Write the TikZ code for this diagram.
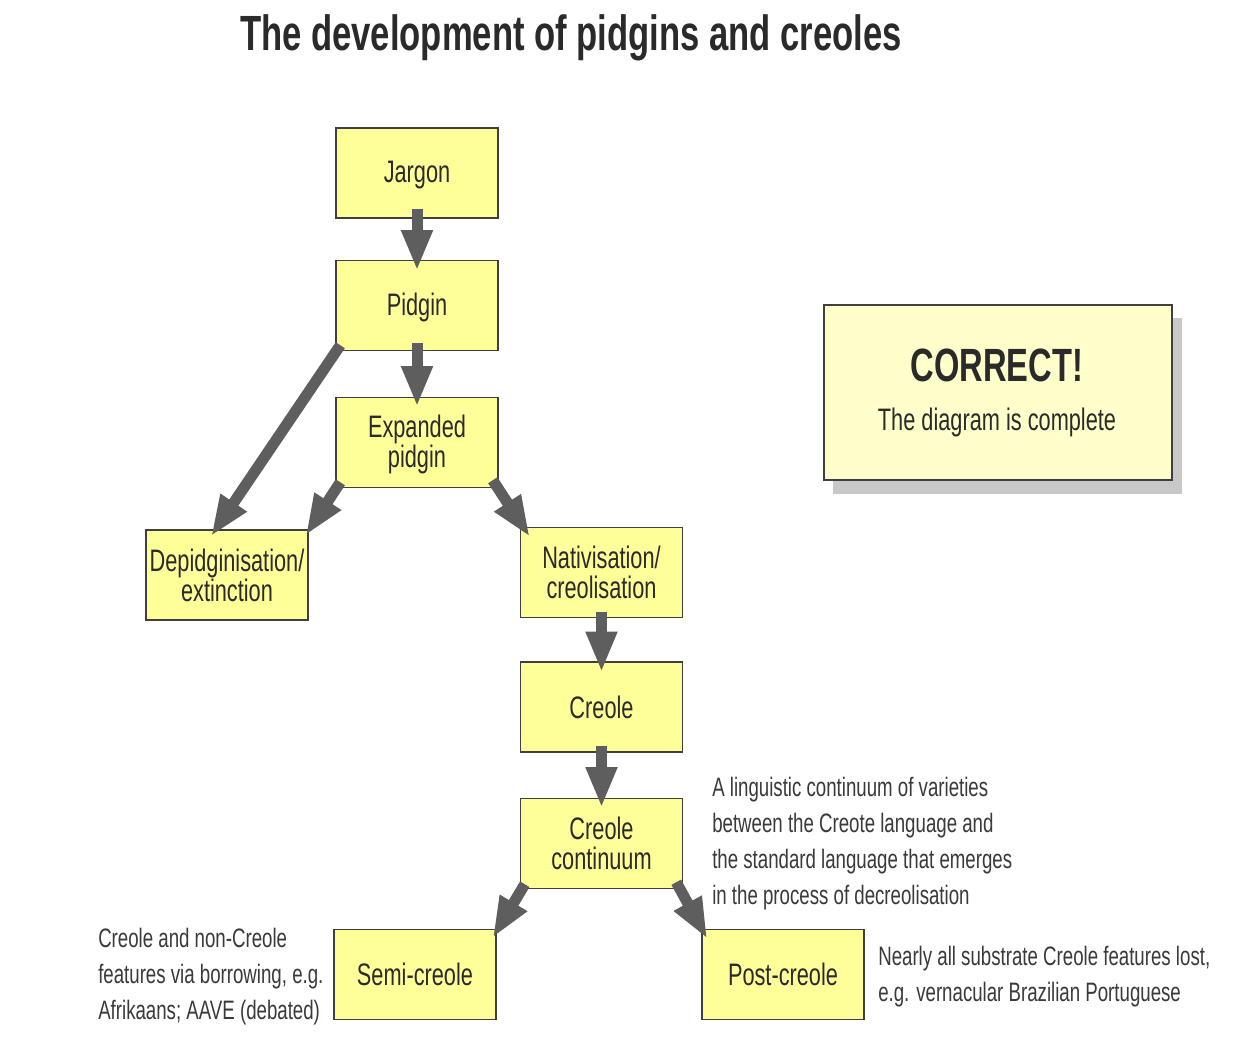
\documentclass[tikz,border=0pt]{standalone}
\usepackage{fontspec}
\setmainfont[FakeStretch=0.7]{Liberation Sans}
\usetikzlibrary{arrows.meta}
\definecolor{boxfill}{HTML}{FFFF99}
\definecolor{okfill}{HTML}{FFFFCC}
\definecolor{edgegray}{HTML}{3F3F3F}
\definecolor{arrgray}{HTML}{5E5E5E}
\definecolor{txtgray}{HTML}{2A2A2A}
\definecolor{notegray}{HTML}{3A3A3A}
\definecolor{shadowgray}{HTML}{C8C8C8}
\newcommand\lnstrut{\rule[-0.13em]{0pt}{0.98em}}
\newcommand\boxfont{\fontsize{23.3pt}{22.5pt}\selectfont\setlength{\lineskiplimit}{-100pt}}
\tikzset{
  stagebox/.style={draw=edgegray, line width=1.1pt, fill=boxfill, minimum width=121.5pt, minimum height=67.5pt,
    inner sep=0pt, align=center, text=txtgray, font=\boxfont},
  flowarrow/.style={draw=arrgray, line width=8.25pt, -{Triangle[length=30.5pt,width=21.75pt]}},
  notetext/.style={align=left, anchor=west, inner sep=0pt, text=notegray, font=\fontsize{20pt}{27pt}\selectfont},
}
\begin{document}
\begin{tikzpicture}[x=0.75pt,y=-0.75pt]
\useasboundingbox (0,0) rectangle (1240,1040);
\fill[white] (0,0) rectangle (1240,1040);

\node[text=txtgray, font=\fontsize{37.1pt}{37.1pt}\selectfont\bfseries, inner sep=0pt] (title) at (571,38) {The development of pidgins and creoles};

\node[stagebox] (jargon) at (417,173) {Jargon\lnstrut};
\node[stagebox] (pidgin) at (417,305.5) {Pidgin\lnstrut};
\node[stagebox] (expanded) at (417,442.5) {Expanded\lnstrut\\pidgin\lnstrut};
\node[stagebox] (depid) at (227,575) {Depidginisation/\lnstrut\\extinction\lnstrut};
\node[stagebox] (nativ) at (601.5,572.5) {Nativisation/\lnstrut\\creolisation\lnstrut};
\node[stagebox] (creole) at (601.5,707) {Creole\lnstrut};
\node[stagebox] (contin) at (601.5,843.5) {Creole\lnstrut\\continuum\lnstrut};
\node[stagebox] (semi) at (415,974.5) {Semi-creole\lnstrut};
\node[stagebox] (post) at (783,974.5) {Post-creole\lnstrut};

% correct box with shadow
\fill[shadowgray] (833,318) rectangle (1182,494);
\node[draw=edgegray, line width=1.1pt, fill=okfill, minimum width=261pt, minimum height=131.25pt, inner sep=0pt] (okbox) at (998,392.5) {};
\node[text=txtgray, font=\fontsize{35pt}{35pt}\selectfont\bfseries, inner sep=0pt] (oktitle) at (997,365) {CORRECT!};
\node[text=txtgray, font=\fontsize{23.3pt}{23.3pt}\selectfont, inner sep=0pt] (oksub) at (997,422) {The diagram is complete};

% notes
\node[notetext] (notecont) at (712,844) {A linguistic continuum of varieties\\between the Creote language and\\the standard language that emerges\\in the process of decreolisation};
\node[notetext] (notesemi) at (98,976.5) {Creole and non-Creole\\features via borrowing, e.g.\\Afrikaans; AAVE (debated)};
\node[notetext] (notepost) at (878,977) {Nearly all substrate Creole features lost,\\e.g. vernacular Brazilian Portuguese};

% arrows
\draw[flowarrow] ([shift={(0,-10)}]jargon.south) -- ([shift={(0,11)}]pidgin.north);
\draw[flowarrow] ([shift={(0,-8)}]pidgin.south) -- ([shift={(0,10)}]expanded.north);
\draw[flowarrow] ([shift={(5,-6)}]pidgin.south west) -- ([shift={(-16,7)}]depid.north);
\draw[flowarrow] ([shift={(5,-6)}]expanded.south west) -- ([shift={(-3,6)}]depid.north east);
\draw[flowarrow] ([shift={(-6,-8)}]expanded.south east) -- ([shift={(10,10)}]nativ.north west);
\draw[flowarrow] ([shift={(0,-6)}]nativ.south) -- ([shift={(0,11)}]creole.north);
\draw[flowarrow] ([shift={(0,-7)}]creole.south) -- ([shift={(0,10)}]contin.north);
\draw[flowarrow] ([shift={(5,-5)}]contin.south west) -- ([shift={(-4,9)}]semi.north east);
\draw[flowarrow] ([shift={(-7,-7)}]contin.south east) -- ([shift={(6,10)}]post.north west);
\end{tikzpicture}
\end{document}
